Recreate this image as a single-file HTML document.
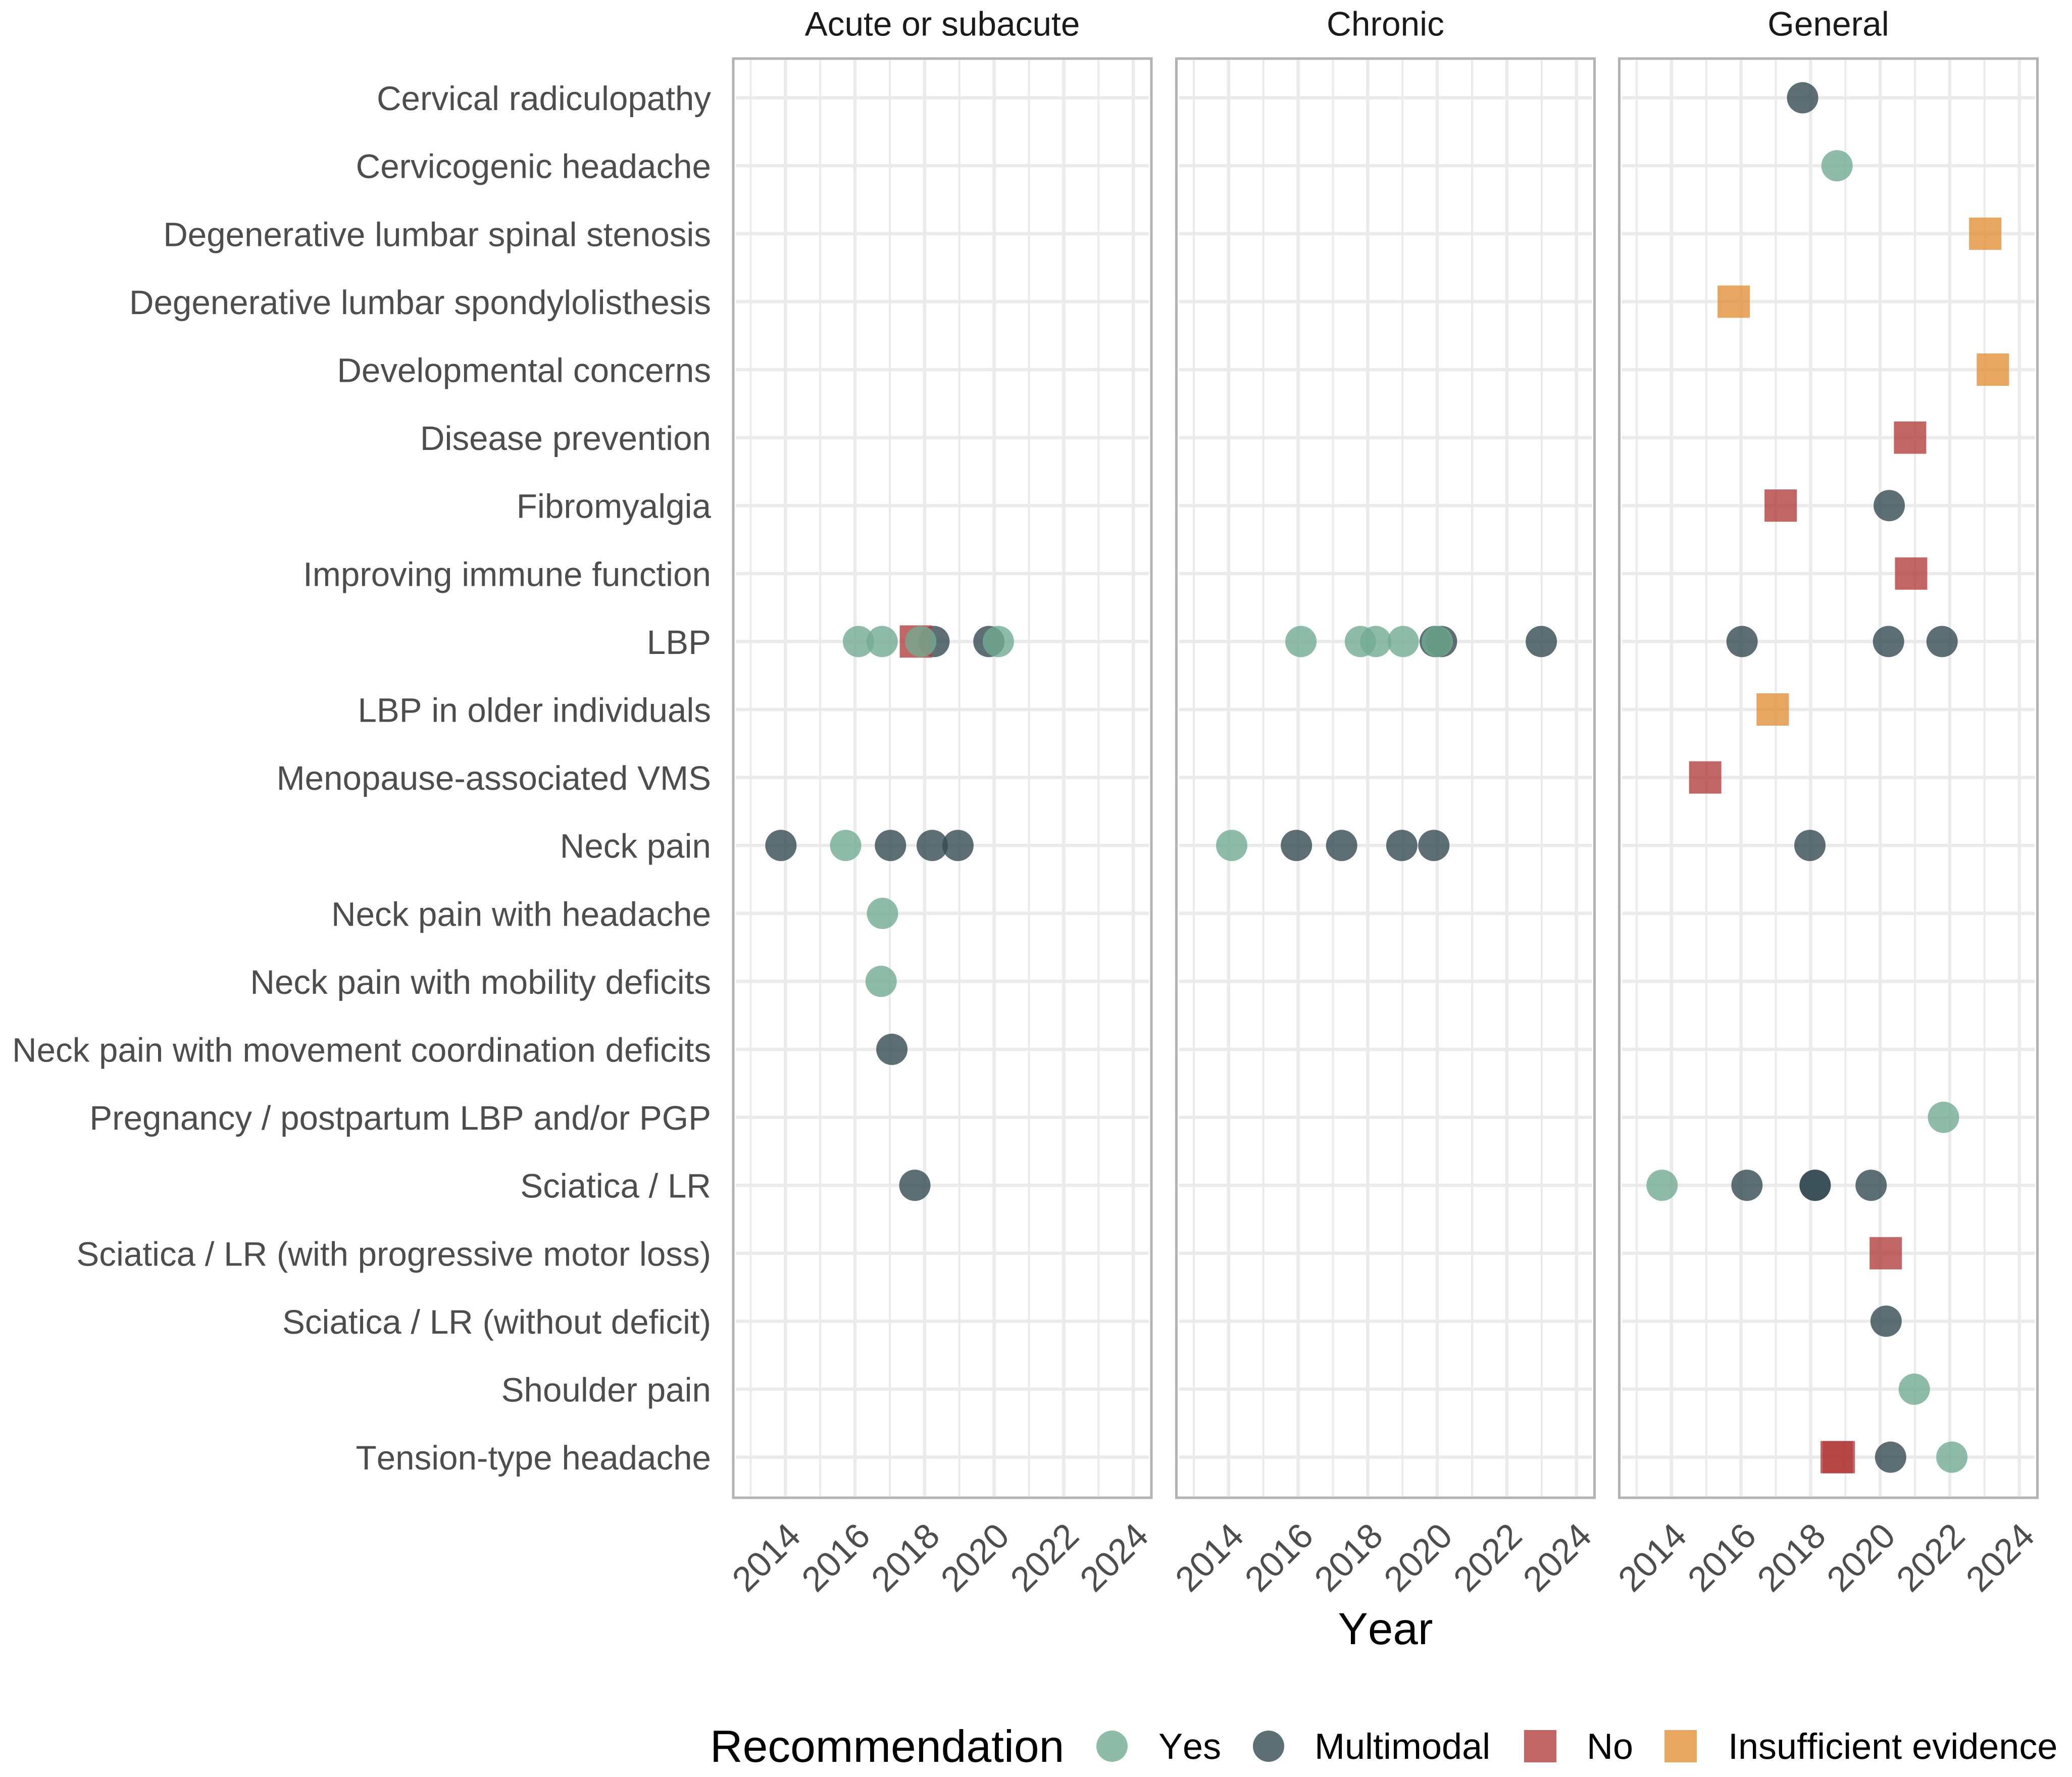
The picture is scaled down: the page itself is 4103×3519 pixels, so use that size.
<!DOCTYPE html>
<html lang="en">
<head>
<meta charset="utf-8">
<title>Recommendations by condition and year</title>
<style>
  html, body { margin: 0; padding: 0; background: #fff; }
  #chart { display: block; position: absolute; left: 0; top: 0; }
  text {
    font-family: "Liberation Sans", Arial, sans-serif;
    text-rendering: geometricPrecision;
    font-kerning: none;
    font-variant-ligatures: none;
    font-feature-settings: "kern" 0, "liga" 0, "clig" 0;
  }
</style>
</head>
<body>
<svg id="chart" xmlns="http://www.w3.org/2000/svg" width="4103" height="3519" viewBox="0 0 4103 3519"></svg>
<script>
const categories = [
  "Cervical radiculopathy",
  "Cervicogenic headache",
  "Degenerative lumbar spinal stenosis",
  "Degenerative lumbar spondylolisthesis",
  "Developmental concerns",
  "Disease prevention",
  "Fibromyalgia",
  "Improving immune function",
  "LBP",
  "LBP in older individuals",
  "Menopause-associated VMS",
  "Neck pain",
  "Neck pain with headache",
  "Neck pain with mobility deficits",
  "Neck pain with movement coordination deficits",
  "Pregnancy / postpartum LBP and/or PGP",
  "Sciatica / LR",
  "Sciatica / LR (with progressive motor loss)",
  "Sciatica / LR (without deficit)",
  "Shoulder pain",
  "Tension-type headache"
];
const facets = ["Acute or subacute", "Chronic", "General"];
const majorYears = [2014, 2016, 2018, 2020, 2022, 2024];
const minorYears = [2013, 2015, 2017, 2019, 2021, 2023];
const recommendations = ["Yes", "Multimodal", "No", "Insufficient evidence"];

const acutePoints = [
  ["LBP", 2018.27, "Multimodal"],
  ["LBP", 2019.85, "Multimodal"],
  ["LBP", 2017.75, "No"],
  ["LBP", 2016.10, "Yes"],
  ["LBP", 2016.78, "Yes"],
  ["LBP", 2017.89, "Yes"],
  ["LBP", 2020.12, "Yes"],
  ["Neck pain", 2013.87, "Multimodal"],
  ["Neck pain", 2017.02, "Multimodal"],
  ["Neck pain", 2018.22, "Multimodal"],
  ["Neck pain", 2018.96, "Multimodal"],
  ["Neck pain", 2015.73, "Yes"],
  ["Neck pain with headache", 2016.79, "Yes"],
  ["Neck pain with mobility deficits", 2016.75, "Yes"],
  ["Neck pain with movement coordination deficits", 2017.06, "Multimodal"],
  ["Sciatica / LR", 2017.72, "Multimodal"]
];
const chronicPoints = [
  ["LBP", 2019.94, "Multimodal"],
  ["LBP", 2020.12, "Multimodal"],
  ["LBP", 2022.99, "Multimodal"],
  ["LBP", 2016.08, "Yes"],
  ["LBP", 2017.79, "Yes"],
  ["LBP", 2018.23, "Yes"],
  ["LBP", 2019.02, "Yes"],
  ["LBP", 2020.00, "Yes"],
  ["Neck pain", 2015.95, "Multimodal"],
  ["Neck pain", 2017.25, "Multimodal"],
  ["Neck pain", 2018.98, "Multimodal"],
  ["Neck pain", 2019.90, "Multimodal"],
  ["Neck pain", 2014.09, "Yes"]
];
const generalPoints = [
  ["Cervical radiculopathy", 2017.77, "Multimodal"],
  ["Cervicogenic headache", 2018.76, "Yes"],
  ["Degenerative lumbar spinal stenosis", 2023.02, "Insufficient evidence"],
  ["Degenerative lumbar spondylolisthesis", 2015.79, "Insufficient evidence"],
  ["Developmental concerns", 2023.24, "Insufficient evidence"],
  ["Disease prevention", 2020.86, "No"],
  ["Fibromyalgia", 2017.14, "No"],
  ["Fibromyalgia", 2020.26, "Multimodal"],
  ["Improving immune function", 2020.89, "No"],
  ["LBP", 2016.03, "Multimodal"],
  ["LBP", 2020.24, "Multimodal"],
  ["LBP", 2021.78, "Multimodal"],
  ["LBP in older individuals", 2016.91, "Insufficient evidence"],
  ["Menopause-associated VMS", 2014.97, "No"],
  ["Neck pain", 2017.98, "Multimodal"],
  ["Pregnancy / postpartum LBP and/or PGP", 2021.82, "Yes"],
  ["Sciatica / LR", 2013.73, "Yes"],
  ["Sciatica / LR", 2016.17, "Multimodal"],
  ["Sciatica / LR", 2018.13, "Multimodal"],
  ["Sciatica / LR", 2018.13, "Multimodal"],
  ["Sciatica / LR", 2019.74, "Multimodal"],
  ["Sciatica / LR (with progressive motor loss)", 2020.16, "No"],
  ["Sciatica / LR (without deficit)", 2020.17, "Multimodal"],
  ["Shoulder pain", 2020.98, "Yes"],
  ["Tension-type headache", 2018.75, "No"],
  ["Tension-type headache", 2018.81, "No"],
  ["Tension-type headache", 2020.30, "Multimodal"],
  ["Tension-type headache", 2022.06, "Yes"]
];
const facetPoints = [acutePoints, chronicPoints, generalPoints];

const svg = document.getElementById('chart');
const NS = 'http://www.w3.org/2000/svg';
const panelLefts = [1452, 2329.5, 3206.5];
const panelWidth = 828;
const panelTop = 116;
const panelBottom = 2966;
const xMin = 2012.5;
const xMax = 2024.52;
const rowTop = 193.6;
const rowStep = 134.6;
const markColors = { "Yes": "#73AB92", "Multimodal": "#344A52", "No": "#B33E3E", "Insufficient evidence": "#E2903C" };
const markAlpha = 0.8;

function xScale(year, panel) {
  return panelLefts[panel] + (year - xMin) / (xMax - xMin) * panelWidth;
}
function yScale(category) {
  return rowTop + categories.indexOf(category) * rowStep;
}
function make(tag, attrs, parent) {
  const el = document.createElementNS(NS, tag);
  for (const k in attrs) el.setAttribute(k, attrs[k]);
  parent.appendChild(el);
  return el;
}
function drawMark(parent, rec, cx, cy) {
  let el;
  if (rec === 'Yes' || rec === 'Multimodal') {
    el = make('circle', { cx: cx, cy: cy, r: 31, fill: markColors[rec], 'fill-opacity': markAlpha }, parent);
  } else {
    el = make('rect', { x: cx - 32, y: cy - 32, width: 64, height: 64, fill: markColors[rec], 'fill-opacity': markAlpha }, parent);
  }
  return el;
}
function kebab(s) {
  return s.toLowerCase().replace(/[^a-z0-9]+/g, '-').replace(/^-|-$/g, '');
}

/* y-axis labels */
categories.forEach(function (cat) {
  const t = make('text', { x: 1408, y: yScale(cat) + 24.5, 'text-anchor': 'end', 'font-size': 67.3, fill: '#4D4D4D' }, svg);
  
  
  t.textContent = cat;
});

/* panels */
facets.forEach(function (facet, p) {
  const g = make('g', {}, svg);
  
  

  const title = make('text', { x: panelLefts[p] + panelWidth / 2, y: 70.5, 'text-anchor': 'middle', 'font-size': 67.6, fill: '#1A1A1A' }, g);
  
  
  title.textContent = facet;

  const left = panelLefts[p];
  const right = left + panelWidth;

  minorYears.forEach(function (yr) {
    const x = xScale(yr, p);
    const l = make('line', { x1: x, x2: x, y1: panelTop + 3, y2: panelBottom - 3, stroke: '#EBEBEB', 'stroke-width': 4 }, g);
    
    
  });
  majorYears.forEach(function (yr) {
    const x = xScale(yr, p);
    const l = make('line', { x1: x, x2: x, y1: panelTop + 3, y2: panelBottom - 3, stroke: '#EBEBEB', 'stroke-width': 6.5 }, g);
    
    
  });
  categories.forEach(function (cat) {
    const y = yScale(cat);
    const l = make('line', { x1: left + 5, x2: right - 5, y1: y, y2: y, stroke: '#EBEBEB', 'stroke-width': 6.5 }, g);
    
    
  });

  facetPoints[p].forEach(function (pt) {
    const mark = drawMark(g, pt[2], xScale(pt[1], p), yScale(pt[0]));
    
    
  });

  const frame = make('rect', { x: left, y: panelTop, width: panelWidth, height: panelBottom - panelTop, fill: 'none', stroke: '#B3B3B3', 'stroke-width': 5 }, g);
  
  

  majorYears.forEach(function (yr) {
    const x = xScale(yr, p) + 34;
    const y = 3046;
    const t = make('text', { x: x, y: y, 'text-anchor': 'end', 'font-size': 70, fill: '#4D4D4D', transform: 'rotate(-45 ' + x + ' ' + y + ')' }, g);
    
    
    t.textContent = String(yr);
  });
});

/* x-axis title */
const xTitle = make('text', { x: 2743.5, y: 3256, 'text-anchor': 'middle', 'font-size': 89, fill: '#000' }, svg);


xTitle.textContent = 'Year';

/* legend */
const legend = make('g', {}, svg);



const legendTitle = make('text', { x: 1406, y: 3489, 'font-size': 89.5, fill: '#000' }, legend);


legendTitle.textContent = 'Recommendation';

const legendMarkX = [2202, 2512, 3050, 3328];
const legendTextX = [2294, 2603, 3142, 3422];
recommendations.forEach(function (rec, i) {
  const key = make('g', {}, legend);
  
  
  const mark = drawMark(key, rec, legendMarkX[i], 3458);
  
  
  const t = make('text', { x: legendTextX[i], y: 3483, 'font-size': 72, fill: '#000' }, key);
  
  
  t.textContent = rec;
});
</script>
</body>
</html>
